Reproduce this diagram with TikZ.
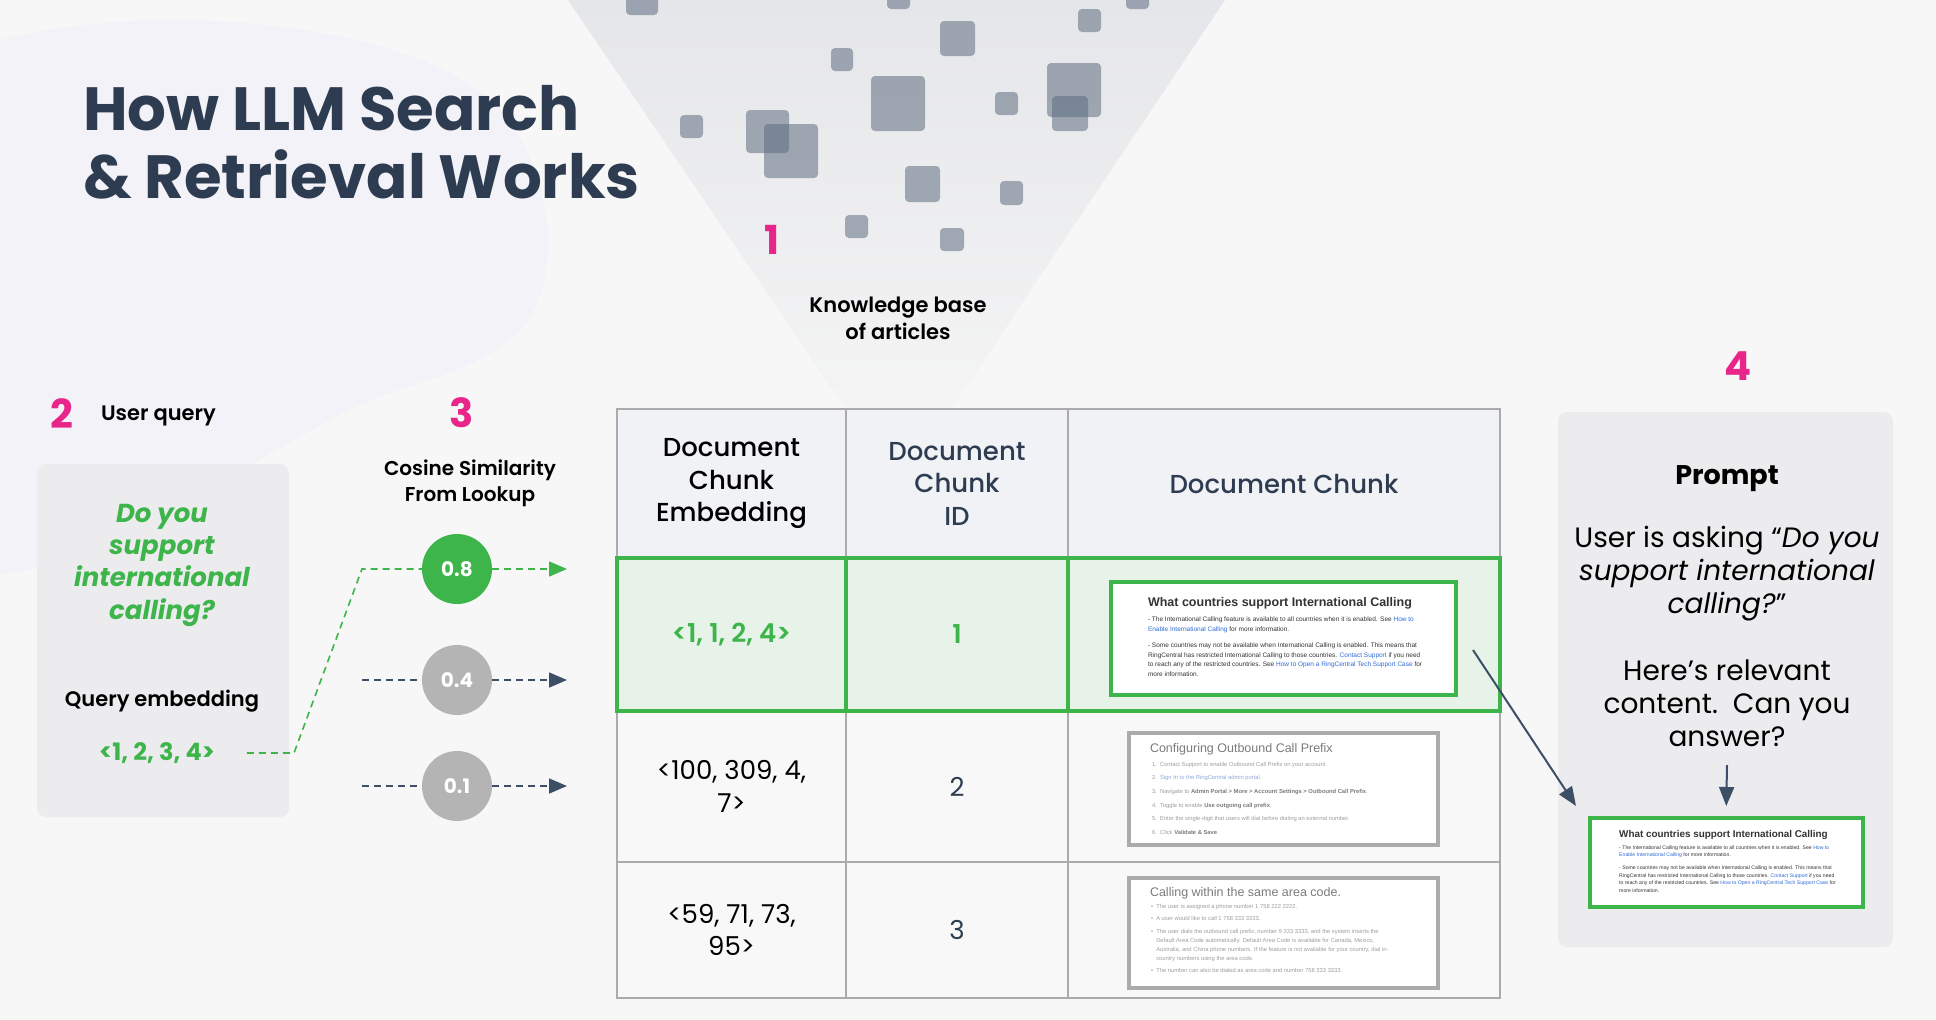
\documentclass[tikz,border=0pt]{standalone}
\usepackage{fontspec}
\setmainfont{Poppins}
\newfontfamily\semibold{Poppins SemiBold}
\newfontfamily\medium{Poppins Medium}
\newfontfamily\docfont{Liberation Sans}
\usetikzlibrary{arrows.meta,positioning}

\definecolor{fondo}{HTML}{F7F7F7}
\definecolor{mancha}{HTML}{F3F2F8}
\definecolor{embudo}{HTML}{E5E6E9}
\definecolor{cuad}{HTML}{5E6D80}
\definecolor{titulo}{HTML}{2D3C50}
\definecolor{azul}{HTML}{3D4F66}
\definecolor{rosa}{HTML}{E8268A}
\definecolor{verde}{HTML}{3DB54A}
\definecolor{grisc}{HTML}{B4B4B4}
\definecolor{linea}{HTML}{ABABAB}
\definecolor{cabecera}{HTML}{F1F2F6}
\definecolor{filaverde}{HTML}{E7F2E9}
\definecolor{fila}{HTML}{F8F8F8}
\definecolor{panel}{HTML}{ECECEF}
\definecolor{enlace}{HTML}{2F6BD8}
\definecolor{doctexto}{HTML}{333333}
\definecolor{grisdoc}{HTML}{7B7B7B}
\definecolor{grisclaro}{HTML}{9E9E9E}
\definecolor{enlacepalido}{HTML}{8FA8E0}

\newcommand{\pxfont}[2]{\fontsize{#1}{#2}\selectfont}

% Ficha del artículo sobre llamadas internacionales
\newcommand{\intlcall}[1]{%
  \node[docbox, draw=verde, minimum width=345pt, minimum height=113pt, anchor=north west] (#1) at (0,0) {};
  \node[doctitle, anchor=west] (#1-t) at (37,21) {What countries support International Calling};
  \node[docbody, anchor=north west] (#1-b) at (37,35) {%
    - The International Calling feature is available to all countries when it is enabled. See \textcolor{enlace}{How to}\\
    \textcolor{enlace}{Enable International Calling} for more information.\\[6.5pt]
    - Some countries may not be available when International Calling is enabled. This means that\\
    RingCentral has restricted International Calling to those countries. \textcolor{enlace}{Contact Support} if you need\\
    to reach any of the restricted countries. See \textcolor{enlace}{How to Open a RingCentral Tech Support Case} for\\
    more information.};
}

\begin{document}
\begin{tikzpicture}[x=1pt, y=-1pt,
    every node/.style={inner sep=0pt, outer sep=0pt},
    pinknum/.style={text=rosa, font=\pxfont{40}{44}\bfseries},
    label/.style={align=center, font=\semibold\pxfont{21}{27}},
    cell/.style={draw=linea, line width=1.8pt, fill=#1, align=center, font=\medium\pxfont{26}{32.5}},
    sim/.style={circle, minimum size=70pt, fill=#1, text=white, font=\pxfont{20}{24}\bfseries},
    panelbox/.style={rounded corners=9pt, fill=panel},
    ptext/.style={align=center, font=\pxfont{28}{33}},
    flecha/.style={draw=azul, line width=2pt, -{Triangle[length=19pt,width=15pt]}},
    gdash/.style={draw=verde, line width=1.6pt, dash pattern=on 7pt off 5pt},
    ndash/.style={draw=azul, line width=1.6pt, dash pattern=on 7pt off 5pt},
    sq/.style={fill=cuad, fill opacity=0.55, rounded corners=4pt},
    docbox/.style={fill=white, line width=4pt},
    doctitle/.style={font=\docfont\pxfont{12.5}{14}\bfseries, text=doctexto},
    docbody/.style={font=\docfont\pxfont{6.5}{9.6}, text=doctexto, align=left},
    grtitle/.style={font=\docfont\pxfont{12.5}{14}, text=grisdoc},
    grbody/.style={font=\docfont\pxfont{5.8}{9}, text=grisclaro, align=left}]

    % Fondo, mancha y embudo de la base de conocimiento
    \useasboundingbox (0,0) rectangle (1936,1020);
    \fill[fondo] (0,0) rectangle (1936,1020);
    \fill[mancha] (0,40) .. controls (150,0) and (420,20) .. (500,110)
        .. controls (560,180) and (560,290) .. (520,330)
        .. controls (470,380) and (400,380) .. (330,420)
        .. controls (220,480) and (100,560) .. (0,575) -- cycle;
    \shade[top color=embudo, bottom color=fondo] (568,0) -- (1225,0) -- (899,487) -- cycle;
    \foreach \x/\y/\w/\h in {626/-20/32/35, 887/-20/23/29, 1126/-20/23/29, 1078/9/23/23,
        940/21/35/35, 831/48/22/23, 871/76/54/55, 995/92/23/23, 1047/63/54/54,
        1052/96/36/35, 680/115/23/23, 746/110/43/43, 764/124/54/54, 905/166/35/36,
        1000/181/23/24, 845/215/23/23, 940/228/24/23} {
        \fill[sq] (\x,\y) rectangle ++(\w,\h);
    }
    \node[pinknum] (n1) at (772,240) {1};
    \node[label] (kb) at (898,318) {Knowledge base\\of articles};

    % Título
    \node[anchor=base west, text=titulo, font=\pxfont{61}{68}\bfseries] (title1) at (83,130) {How LLM Search};
    \node[anchor=base west, text=titulo, font=\pxfont{61}{68}\bfseries] (title2) at (83,198) {\& Retrieval Works};

    % Consulta del usuario
    \node[pinknum] (n2) at (62,414) {2};
    \node[label, anchor=west] (uq) at (101,416) {User query};
    \node[panelbox, minimum width=252pt, minimum height=353pt] (qpanel) at (163,640.5) {};
    \node[align=center, text=verde, font=\pxfont{26}{32.3}\bfseries\itshape] (qtext) at (162,565)
        {Do you\\support\\international\\calling?};
    \node[label] (qlab) at (162,701) {Query embedding};
    \node[text=verde, font=\pxfont{24}{28}\bfseries] (qvec) at (157,753) {<1, 2, 3, 4>};

    % Similitud coseno
    \node[pinknum] (n3) at (462,413) {3};
    \node[label, font=\semibold\pxfont{20}{26}] (cos) at (470,483) {Cosine Similarity\\From Lookup};
    \node[sim=verde] (c8) at (457,569) {0.8};
    \node[sim=grisc] (c4) at (457,680) {0.4};
    \node[sim=grisc] (c1) at (457,786) {0.1};
    \coordinate (k1) at (294,753);
    \coordinate (k2) at (362,569);
    \coordinate (a8) at (567,569);
    \coordinate (s4) at (362,680);
    \coordinate (a4) at (567,680);
    \coordinate (s1) at (362,786);
    \coordinate (a1) at (567,786);
    \draw[gdash] ([xshift=32pt]qvec.east) -- (k1) -- (k2) -- (c8);
    \draw[gdash, -{Triangle[length=18pt,width=15pt]}] (c8) -- (a8);
    \draw[ndash] (s4) -- (c4);
    \draw[ndash, -{Triangle[length=18pt,width=15pt]}] (c4) -- (a4);
    \draw[ndash] (s1) -- (c1);
    \draw[ndash, -{Triangle[length=18pt,width=15pt]}] (c1) -- (a1);

    % Tabla de fragmentos
    \node[cell=cabecera, minimum width=229pt, minimum height=149pt] (h1) at (731.5,483.5) {Document\\Chunk\\Embedding};
    \node[cell=cabecera, minimum width=222pt, minimum height=149pt, text=titulo] (h2) at (957,483.5) {Document\\Chunk\\ID};
    \node[cell=cabecera, minimum width=432pt, minimum height=149pt, text=titulo] (h3) at (1284,483.5) {Document Chunk};
    \node[cell=fila, minimum width=229pt, minimum height=151pt, font=\pxfont{26}{32.5}] (e2) at (731.5,786.5) {<100, 309, 4,\\7>};
    \node[cell=fila, minimum width=222pt, minimum height=151pt, text=titulo, font=\pxfont{26}{32.5}] (i2) at (957,786.5) {2};
    \node[cell=fila, minimum width=432pt, minimum height=151pt] (d2) at (1284,786.5) {};
    \node[cell=fila, minimum width=229pt, minimum height=136pt, font=\pxfont{26}{32.5}] (e3) at (731.5,930) {<59, 71, 73,\\95>};
    \node[cell=fila, minimum width=222pt, minimum height=136pt, text=titulo, font=\pxfont{26}{32.5}] (i3) at (957,930) {3};
    \node[cell=fila, minimum width=432pt, minimum height=136pt] (d3) at (1284,930) {};
    \node[cell=filaverde, draw=verde, line width=4pt, minimum width=229pt, minimum height=153pt,
        text=verde, font=\semibold\pxfont{26}{32}] (e1) at (731.5,634.5) {<1, 1, 2, 4>};
    \node[cell=filaverde, draw=verde, line width=4pt, minimum width=222pt, minimum height=153pt,
        text=verde, font=\semibold\pxfont{26}{32}] (i1) at (957,634.5) {1};
    \node[cell=filaverde, draw=verde, line width=4pt, minimum width=432pt, minimum height=153pt] (d1) at (1284,634.5) {};

    \begin{scope}[shift={(1111,582)}]
        \intlcall{doc1}
    \end{scope}

    \node[docbox, draw=linea, minimum width=309pt, minimum height=112pt, anchor=north west] (cfg) at (1129,733) {};
    \node[grtitle, anchor=west] (cfg-t) at (1150,749) {Configuring Outbound Call Prefix};
    \node[grbody, anchor=north west, font=\docfont\pxfont{5.8}{13.6}] (cfg-b) at (1152,762) {%
        1.\ \ Contact Support to enable Outbound Call Prefix on your account.\\
        2.\ \ \textcolor{enlacepalido}{Sign In to the RingCentral admin portal.}\\
        3.\ \ Navigate to \textcolor{grisdoc}{\bfseries Admin Portal > More > Account Settings > Outbound Call Prefix}.\\
        4.\ \ Toggle to enable \textcolor{grisdoc}{\bfseries Use outgoing call prefix}.\\
        5.\ \ Enter the single-digit that users will dial before dialing an external number.\\
        6.\ \ Click \textcolor{grisdoc}{\bfseries Validate \& Save}.};

    \node[docbox, draw=linea, minimum width=309pt, minimum height=110pt, anchor=north west] (area) at (1129,878) {};
    \node[grtitle, anchor=west] (area-t) at (1150,893) {Calling within the same area code.};
    \node[grbody, anchor=north west] (area-b) at (1151,904) {%
        •\ \ The user is assigned a phone number 1 758 222 2222.\\[3.5pt]
        •\ \ A user would like to call 1 758 333 3333.\\[3.5pt]
        •\ \ The user dials the outbound call prefix, number 9 333 3333, and the system inserts the\\
        \phantom{•\ \ }Default Area Code automatically. Default Area Code is available for Canada, Mexico,\\
        \phantom{•\ \ }Australia, and China phone numbers. If the feature is not available for your country, dial in-\\
        \phantom{•\ \ }country numbers using the area code.\\[3.5pt]
        •\ \ The number can also be dialed as area code and number 758 333 3333.};

    % Prompt final
    \node[pinknum] (n4) at (1738,366) {4};
    \node[panelbox, minimum width=335pt, minimum height=535pt] (prompt) at (1725.5,679.5) {};
    \node[font=\pxfont{27}{32}\bfseries] (ptitle) at (1727,479) {Prompt};
    \node[ptext] (pask) at (1727,574) {User is asking “\textit{Do you}\\\textit{support international}\\\textit{calling?}”};
    \node[ptext] (phere) at (1727,703) {Here’s relevant\\content.\ \ Can you\\answer?};
    \begin{scope}[shift={(1590,818)}, scale=0.79, transform shape]
        \intlcall{pdoc}
    \end{scope}
    \coordinate (pa) at (1727,765);
    \draw[flecha] (pa) -- ([yshift=12pt]pdoc.north);
    \coordinate (g1) at (1473,650);
    \draw[flecha] (g1) -- ([shift={(-14pt,12pt)}]pdoc.north west);
\end{tikzpicture}
\end{document}
